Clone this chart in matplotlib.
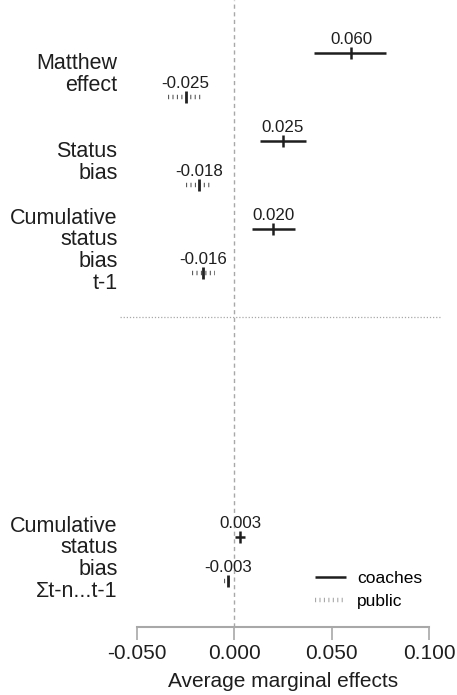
import matplotlib.pyplot as plt
from matplotlib.lines import Line2D

# Средние предельные эффекты: тренеры (coaches) и публика (public)
groups = ['Matthew\neffect', 'Status\nbias', 'Cumulative\nstatus\nbias\nt-1',
          'Cumulative\nstatus\nbias\nΣt-n...t-1']
group_rows = [0, 2, 4, 11]

coach_est = [0.060, 0.025, 0.020, 0.003]
coach_lo = [0.041, 0.013, 0.009, 0.0005]
coach_hi = [0.078, 0.037, 0.031, 0.0055]

public_est = [-0.025, -0.018, -0.016, -0.003]
public_lo = [-0.034, -0.025, -0.022, -0.0055]
public_hi = [-0.017, -0.012, -0.010, -0.002]

x_ticks = [-0.05, 0.0, 0.05, 0.1]

plt.rcParams['font.family'] = ['Liberation Sans', 'DejaVu Sans']

dark = '#1e1e1e'
grey = '#5a5a5a'
light = '#a8a8a8'
dot_style = (0, (0.25, 0.75))

fig = plt.figure(figsize=(4.57, 6.95), dpi=100)
ax = fig.add_axes([137 / 457, 68 / 695, 292 / 457, 627 / 695])

# Нулевая линия
ax.axvline(0, color=light, linewidth=1, linestyle=(0, (3, 2.5)), zorder=1)
# Разделитель между блоками
ax.axhline(6, xmin=-0.058, xmax=1.038, color=light, linewidth=0.9,
           linestyle=(0, (1, 1.5)), clip_on=False)

for i, row in enumerate(group_rows):
    yc = row
    yp = row + 1

    # coaches: сплошная линия
    ax.plot([coach_lo[i], coach_hi[i]], [yc, yc], color=dark, linewidth=1.8,
            solid_capstyle='butt')
    ax.plot(coach_est[i], yc, marker='|', markersize=9, mew=1.8, color=dark)
    ax.annotate(f'{coach_est[i]:.3f}', (coach_est[i], yc), xytext=(0, 4.5),
                textcoords='offset points', ha='center', va='bottom',
                fontsize=12.2, color=dark)

    # public: пунктир
    ax.plot([public_lo[i], public_hi[i]], [yp, yp], color=grey, linewidth=3.2,
            linestyle=dot_style, dash_capstyle='butt')
    ax.plot(public_est[i], yp, marker='|', markersize=9, mew=2, color='#222222')
    ax.annotate(f'{public_est[i]:.3f}', (public_est[i], yp), xytext=(0, 4.5),
                textcoords='offset points', ha='center', va='bottom',
                fontsize=12.2, color=dark)

    # Подпись группы
    ax.text(-0.0600, row + 0.5, groups[i], ha='right', va='center',
            fontsize=15.5, color=dark, linespacing=1.05)

ax.set_xlim(-0.05, 0.1)
ax.set_ylim(13.05, -1.2)
ax.set_xticks(x_ticks)
ax.set_xticklabels([f'{t:.3f}' for t in x_ticks])
ax.set_yticks([])
ax.tick_params(axis='x', length=9, width=1.2, color=light, pad=3,
               labelsize=15, labelcolor=dark)
for side in ['top', 'right', 'left']:
    ax.spines[side].set_visible(False)
ax.spines['bottom'].set_color(light)
ax.spines['bottom'].set_linewidth(1.5)
ax.set_xlabel('Average marginal effects', fontsize=15, color=dark, labelpad=7)
ax.patch.set_visible(False)

handles = [
    Line2D([], [], color=dark, linewidth=1.8, solid_capstyle='butt'),
    Line2D([], [], color=light, linewidth=3.2, linestyle=dot_style, dash_capstyle='butt'),
]
ax.legend(handles, ['coaches', 'public'], loc='upper left',
          bbox_to_anchor=(0.61, 0.09), frameon=False, fontsize=12.5,
          handlelength=1.8, handletextpad=0.6, labelspacing=0.45,
          borderpad=0, borderaxespad=0)

fig.savefig('out.png', dpi=100)
